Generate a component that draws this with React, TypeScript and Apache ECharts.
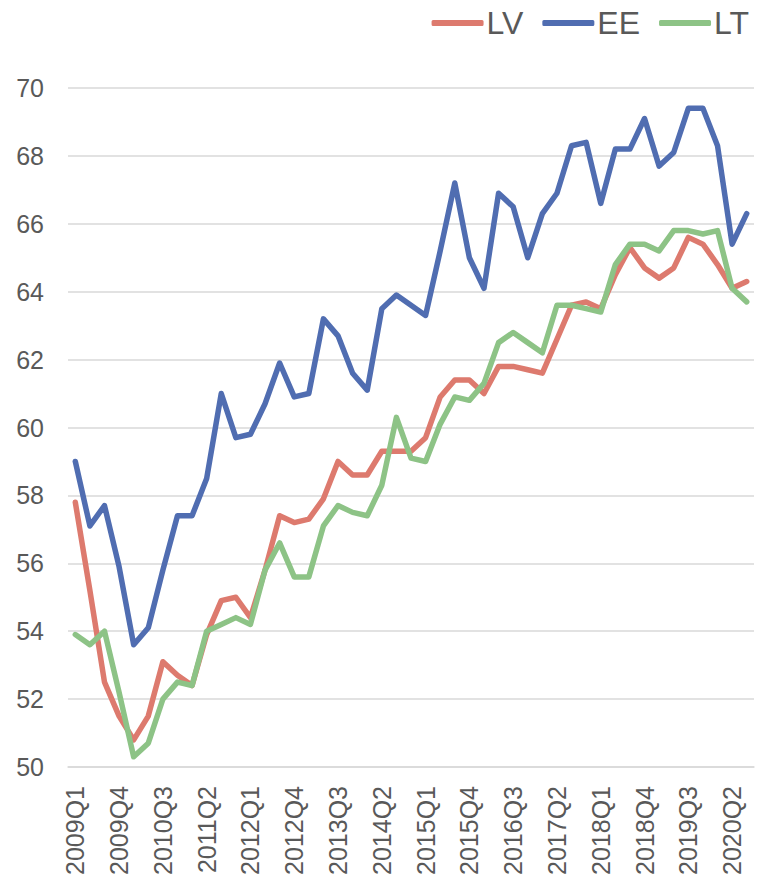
import React, { useEffect, useRef } from "react";
import * as echarts from "echarts";

const categories = [
  "2009Q1", "2009Q2", "2009Q3", "2009Q4",
  "2010Q1", "2010Q2", "2010Q3", "2010Q4",
  "2011Q1", "2011Q2", "2011Q3", "2011Q4",
  "2012Q1", "2012Q2", "2012Q3", "2012Q4",
  "2013Q1", "2013Q2", "2013Q3", "2013Q4",
  "2014Q1", "2014Q2", "2014Q3", "2014Q4",
  "2015Q1", "2015Q2", "2015Q3", "2015Q4",
  "2016Q1", "2016Q2", "2016Q3", "2016Q4",
  "2017Q1", "2017Q2", "2017Q3", "2017Q4",
  "2018Q1", "2018Q2", "2018Q3", "2018Q4",
  "2019Q1", "2019Q2", "2019Q3", "2019Q4",
  "2020Q1", "2020Q2", "2020Q3",
];

const LV = [
  57.8, 55.2, 52.5, 51.5, 50.8, 51.5, 53.1, 52.7, 52.4, 53.9, 54.9, 55.0,
  54.4, 55.8, 57.4, 57.2, 57.3, 57.9, 59.0, 58.6, 58.6, 59.3, 59.3, 59.3,
  59.7, 60.9, 61.4, 61.4, 61.0, 61.8, 61.8, 61.7, 61.6, 62.6, 63.6, 63.7,
  63.5, 64.5, 65.3, 64.7, 64.4, 64.7, 65.6, 65.4, 64.8, 64.1, 64.3,
];

const EE = [
  59.0, 57.1, 57.7, 55.9, 53.6, 54.1, 55.8, 57.4, 57.4, 58.5, 61.0, 59.7,
  59.8, 60.7, 61.9, 60.9, 61.0, 63.2, 62.7, 61.6, 61.1, 63.5, 63.9, 63.6,
  63.3, 65.2, 67.2, 65.0, 64.1, 66.9, 66.5, 65.0, 66.3, 66.9, 68.3, 68.4,
  66.6, 68.2, 68.2, 69.1, 67.7, 68.1, 69.4, 69.4, 68.3, 65.4, 66.3,
];

const LT = [
  53.9, 53.6, 54.0, 52.2, 50.3, 50.7, 52.0, 52.5, 52.4, 54.0, 54.2, 54.4,
  54.2, 55.8, 56.6, 55.6, 55.6, 57.1, 57.7, 57.5, 57.4, 58.3, 60.3, 59.1,
  59.0, 60.1, 60.9, 60.8, 61.3, 62.5, 62.8, 62.5, 62.2, 63.6, 63.6, 63.5,
  63.4, 64.8, 65.4, 65.4, 65.2, 65.8, 65.8, 65.7, 65.8, 64.1, 63.7,
];

const seriesNames = ["LV", "EE", "LT"];
const seriesColors = ["#DD7A6E", "#506DB1", "#8DC386"];

const FONT = "'Liberation Sans', Arial, sans-serif";
const TEXT = "#595959";

export default function App() {
  const ref = useRef<HTMLDivElement>(null);

  useEffect(() => {
    if (!ref.current) return;
    const chart = echarts.init(ref.current, null, { renderer: "svg" });
    const data = [LV, EE, LT];
    chart.setOption({
      animation: false,
      backgroundColor: "#ffffff",
      textStyle: { fontFamily: FONT },
      legend: {
        top: 2,
        right: 5,
        icon: "roundRect",
        itemWidth: 52,
        itemHeight: 6,
        itemGap: 19,
        textStyle: { fontSize: 32, color: TEXT, fontFamily: FONT, padding: [0, 0, 0, -2] },
        data: seriesNames,
      },
      grid: { left: 68, right: 5, top: 88, bottom: 115, containLabel: false },
      xAxis: {
        type: "category",
        data: categories,
        boundaryGap: true,
        axisLine: { show: true, lineStyle: { color: "#D9D9D9", width: 1.5 } },
        axisTick: { show: false },
        axisLabel: {
          interval: 2,
          rotate: 90,
          margin: 19,
          fontSize: 25,
          color: TEXT,
          fontFamily: FONT,
        },
        splitLine: { show: false },
      },
      yAxis: {
        type: "value",
        min: 50,
        max: 70,
        interval: 2,
        axisLine: { show: false },
        axisTick: { show: false },
        axisLabel: { fontSize: 25, color: TEXT, margin: 24, fontFamily: FONT },
        splitLine: { lineStyle: { color: "#D9D9D9", width: 1.5 } },
      },
      series: seriesNames.map((name, i) => ({
        name,
        type: "line",
        data: data[i],
        symbol: "none",
        color: seriesColors[i],
        lineStyle: { width: 5.5, color: seriesColors[i], cap: "round", join: "round" },
        itemStyle: { color: seriesColors[i] },
      })),
    });
    return () => chart.dispose();
  }, []);

  return (
    <div
      ref={ref}
      style={{ position: "fixed", left: 0, top: 0, width: 759, height: 882, background: "#fff" }}
    />
  );
}
